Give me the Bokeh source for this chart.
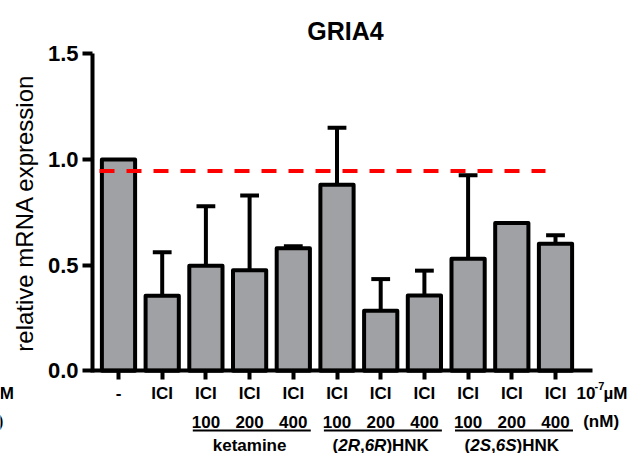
import re
from bokeh.plotting import figure
from bokeh.models import Range1d, LinearAxis, FixedTicker, ColumnDataSource, NumeralTickFormatter
from bokeh.core.properties import value
from bokeh.embed import file_html
from bokeh.resources import INLINE

# ---------------- data ----------------
title_text = "GRIA4"
y_label = "relative mRNA expression"
conditions = ["-", "ICI", "ICI", "ICI", "ICI", "ICI", "ICI", "ICI", "ICI", "ICI", "ICI"]
doses_nM = ["", "", "100", "200", "400", "100", "200", "400", "100", "200", "400"]
groups = ["ketamine", "(2R,6R)HNK", "(2S,6S)HNK"]
group_members = [[2, 3, 4], [5, 6, 7], [8, 9, 10]]
mean_expr = [1.0, 0.355, 0.497, 0.476, 0.58, 0.88, 0.284, 0.356, 0.53, 0.70, 0.601]
sem_expr = [0.0, 0.206, 0.282, 0.354, 0.01, 0.27, 0.15, 0.118, 0.396, 0.0, 0.041]
y_ticks = [0.0, 0.5, 1.0, 1.5]
reference_level = 0.945
ici_unit = ("10", "-7", "µM")
dose_unit = "(nM)"

# ---------------- layout helpers ----------------
W, H = 636, 453
X0_PX, DX = 118.0, 43.7      # pixel of first bar centre, pixels per bar
Y0_PX, DY = 370.3, 211.3     # pixel of y=0, pixels per unit


def px_x(px):
    return (px - X0_PX) / DX


def px_y(py):
    return (Y0_PX - py) / DY


FONT = value("Liberation Sans")
n = len(mean_expr)

p = figure(width=W, height=H, x_range=Range1d(px_x(0), px_x(W)), y_range=Range1d(px_y(H), px_y(0)),
           min_border=0, toolbar_location=None, output_backend="svg",
           x_axis_type=None, y_axis_type=None, outline_line_color=None)
p.background_fill_color = "white"
p.border_fill_color = "white"

# bars
src = ColumnDataSource(dict(x=list(range(n)), top=mean_expr))
p.vbar(x="x", top="top", bottom=0, width=0.76, source=src, fill_color="#a0a1a5",
       line_color="black", line_width=4, line_join="round")

# error bars (upper only)
idx = [i for i in range(n) if sem_expr[i] > 0]
lo = [mean_expr[i] for i in idx]
hi = [mean_expr[i] + sem_expr[i] for i in idx]
p.segment(x0=idx, y0=lo, x1=idx, y1=hi, line_color="black", line_width=4)
cap = 0.215
p.segment(x0=[i - cap for i in idx], y0=hi, x1=[i + cap for i in idx], y1=hi,
          line_color="black", line_width=4)

# reference dashed line
p.line(x=[px_x(99), px_x(545)], y=[reference_level, reference_level], line_color="#ff0000",
       line_width=4, line_dash="15 12")

# y axis
yaxis = LinearAxis(fixed_location=px_x(92), bounds=(-0.01, 1.5), ticker=FixedTicker(ticks=y_ticks),
                   formatter=NumeralTickFormatter(format="0.0"),
                   axis_line_width=4, axis_line_color="black",
                   major_tick_line_width=4, major_tick_out=10, major_tick_in=0,
                   minor_tick_out=0, minor_tick_in=0,
                   major_label_text_font="Liberation Sans", major_label_text_font_style="bold",
                   major_label_text_font_size="22px", major_label_text_color="black",
                   major_label_standoff=4,
                   axis_label=y_label, axis_label_text_font="Liberation Sans",
                   axis_label_text_font_style="normal", axis_label_text_font_size="24px",
                   axis_label_text_color="black", axis_label_standoff=7)
p.add_layout(yaxis, "left")

# x axis
xaxis = LinearAxis(fixed_location=0, bounds=(px_x(92), px_x(592)), ticker=FixedTicker(ticks=list(range(n))),
                   major_label_overrides={i: conditions[i] for i in range(n)},
                   axis_line_width=4, axis_line_color="black",
                   major_tick_line_width=4, major_tick_out=9, major_tick_in=0,
                   minor_tick_out=0, minor_tick_in=0,
                   major_label_text_font="Liberation Sans", major_label_text_font_style="bold",
                   major_label_text_font_size="17px", major_label_text_color="black",
                   major_label_standoff=4)
p.add_layout(xaxis, "below")

# title
p.text(x=[px_x(345)], y=[px_y(30.7)], text=[title_text], text_font=FONT, text_font_size="25px",
       text_font_style="bold", text_align="center", text_baseline="middle", text_color="black")

# dose row
dose_x = [i for i in range(n) if doses_nM[i]]
p.text(x=dose_x, y=[px_y(421)] * len(dose_x), text=[doses_nM[i] for i in dose_x], text_font=FONT,
       text_font_size="17px", text_font_style="bold", text_align="center", text_baseline="middle",
       text_color="black")

# underlines
p.segment(x0=[m[0] - 0.3 for m in group_members], y0=[px_y(430)] * 3,
          x1=[m[-1] + 0.4 for m in group_members], y1=[px_y(430)] * 3,
          line_color="black", line_width=2)

# group names with italic stereo descriptors
BOLD_W = {'(': 333, ')': 333, ',': 278, '2': 556, '6': 556, 'R': 722, 'S': 667, 'H': 722, 'N': 722,
          'K': 722, 'k': 556, 'e': 556, 't': 333, 'a': 556, 'm': 889, 'i': 278, 'n': 611}
FS = 17
for name, members in zip(groups, group_members):
    centre_px = X0_PX + DX * sum(members) / len(members)
    pieces = re.split(r"(\d[RS])", name)
    widths = [sum(BOLD_W.get(c, 600) for c in s) * FS / 1000.0 for s in pieces]
    left = centre_px - sum(widths) / 2
    for k, (s, w) in enumerate(zip(pieces, widths)):
        if s:
            p.text(x=[px_x(left)], y=[px_y(444.5)], text=[s], text_font=FONT, text_font_size="17px",
                   text_font_style="bold italic" if k % 2 == 1 else "bold", text_align="left",
                   text_baseline="middle", text_color="black")
        left += w

# unit labels at right
p.text(x=[px_x(576)], y=[px_y(392.5)], text=[ici_unit[0]], text_font=FONT, text_font_size="17px",
       text_font_style="bold", text_align="left", text_baseline="middle", text_color="black")
p.text(x=[px_x(594)], y=[px_y(385)], text=[ici_unit[1]], text_font=FONT, text_font_size="11px",
       text_font_style="bold", text_align="left", text_baseline="middle", text_color="black")
p.text(x=[px_x(603)], y=[px_y(392.5)], text=[ici_unit[2]], text_font=FONT, text_font_size="17px",
       text_font_style="bold", text_align="left", text_baseline="middle", text_color="black")
p.text(x=[px_x(582.7)], y=[px_y(421)], text=[dose_unit], text_font=FONT, text_font_size="17px",
       text_font_style="bold", text_align="left", text_baseline="middle", text_color="black")

# cut-off labels at the left edge
p.text(x=[px_x(13.3)], y=[px_y(392.5)], text=[ici_unit[2]], text_font=FONT, text_font_size="17px",
       text_font_style="bold", text_align="right", text_baseline="middle", text_color="black")
p.text(x=[px_x(3)], y=[px_y(421)], text=[dose_unit], text_font=FONT, text_font_size="17px",
       text_font_style="bold", text_align="right", text_baseline="middle", text_color="black")

open("out.html", "w").write(file_html(p, INLINE))
